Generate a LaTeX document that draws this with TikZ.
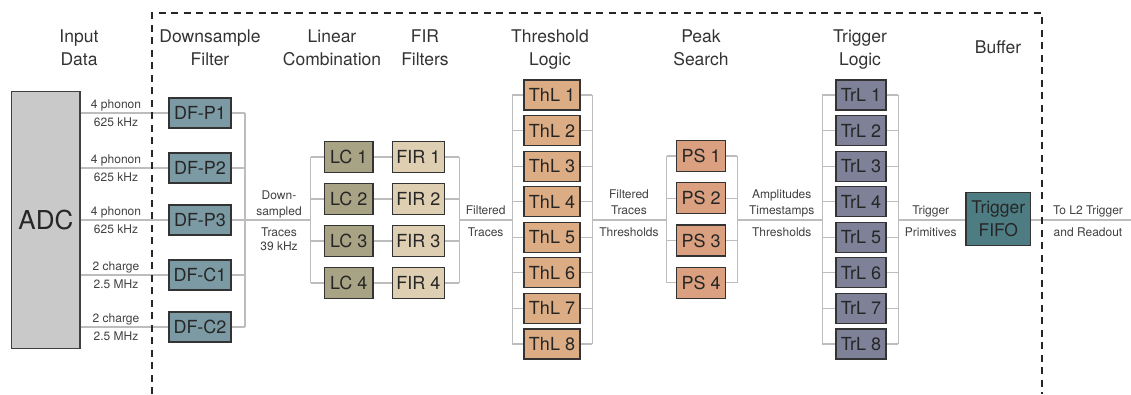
\documentclass[tikz,border=0pt]{standalone}
\usepackage{fontspec}
\setmainfont{TeX Gyre Heros}
\definecolor{adcc}{HTML}{C9C9C9}
\definecolor{dfc}{HTML}{7B9AA3}
\definecolor{lcc}{HTML}{A8A385}
\definecolor{firc}{HTML}{DFCFB2}
\definecolor{thlc}{HTML}{DCAD84}
\definecolor{psc}{HTML}{DAA080}
\definecolor{trlc}{HTML}{7E8197}
\definecolor{fifoc}{HTML}{4D7D83}
\definecolor{linec}{HTML}{BDBDBD}
\begin{document}
\begin{tikzpicture}[x=1pt,y=-1pt,
  box/.style={draw=black!80, line width=1.2pt, minimum height=30pt, inner sep=0pt,
    font=\fontsize{18}{18}\selectfont, text=black!85},
  conn/.style={draw=linec, line width=1.1pt},
  lbl/.style={font=\fontsize{12}{12}\selectfont, text=black!75, inner sep=0pt, anchor=base},
  ttl/.style={font=\fontsize{17.5}{23}\selectfont, text=black!80, align=center, inner sep=0pt, anchor=north},
]
\useasboundingbox (0,0) rectangle (1131,394);

% titles
\node[ttl] (t1) at (79,29.3) {Input\\Data};
\node[ttl] (t2) at (210,29.3) {Downsample\\Filter};
\node[ttl] (t3) at (332,29.3) {Linear\\Combination};
\node[ttl] (t4) at (425,29.3) {FIR\\Filters};
\node[ttl] (t5) at (550,29.3) {Threshold\\Logic};
\node[ttl] (t6) at (701,29.3) {Peak\\Search};
\node[ttl] (t7) at (860,29.3) {Trigger\\Logic};
\node[ttl, anchor=base] (t8) at (998,53.3) {Buffer};

% ADC
\node[draw=black!75, fill=adcc, line width=1.2pt, minimum width=68.3pt, minimum height=256.6pt,
  inner sep=0pt, font=\fontsize{26}{26}\selectfont, text=black!85] (adc) at (45.9,220) {ADC};

% downsample filters, input lines and their labels
\foreach \n/\t/\y/\a/\b in {p1/DF-P1/113/4 phonon/625 kHz,
                            p2/DF-P2/168/4 phonon/625 kHz,
                            p3/DF-P3/220/4 phonon/625 kHz,
                            c1/DF-C1/275/2 charge/2.5 MHz,
                            c2/DF-C2/327/2 charge/2.5 MHz}{
  \node[box, fill=dfc, minimum width=62pt] (df\n) at (200,\y) {\t};
  \draw[conn] (adc.east |- df\n) -- (df\n.west);
  \node[lbl] (in\n a) at (116,\y-5) {\a};
  \node[lbl] (in\n b) at (116,\y+13.2) {\b};
}

% LC and FIR
\foreach \i/\y in {1/157,2/199,3/241,4/283}{
  \node[box, fill=lcc, minimum width=48.7pt, minimum height=31pt] (lc\i) at (348.7,\y) {LC \i};
  \node[box, fill=firc, minimum width=52pt, minimum height=31pt] (fir\i) at (418.3,\y) {FIR \i};
  \draw[conn] (lc\i.east) -- (fir\i.west);
}

% ThL and TrL
\foreach \i in {1,...,8}{
  \pgfmathsetmacro{\yy}{95+35.57*(\i-1)}
  \node[box, fill=thlc, minimum width=56pt] (thl\i) at (552,\yy) {ThL \i};
  \node[box, fill=trlc, minimum width=50pt] (trl\i) at (861,\yy) {TrL \i};
}

% PS
\foreach \i/\y in {1/156,2/198.3,3/240.5,4/282.8}{
  \node[box, fill=psc, minimum width=49pt, minimum height=31pt] (ps\i) at (701.2,\y) {PS \i};
}

% FIFO
\node[box, fill=fifoc, minimum width=64.7pt, minimum height=53.4pt, align=center,
  font=\fontsize{17.5}{23}\selectfont] (fifo) at (998.3,219) {Trigger\\FIFO};

% bus coordinates
\coordinate (bDFo) at (245,220);
\coordinate (bLCi) at (310.7,220);
\coordinate (bFIRo) at (459.3,220);
\coordinate (bTHi) at (512.3,220);
\coordinate (bTHo) at (592.3,220);
\coordinate (bPSi) at (666.7,220);
\coordinate (bPSo) at (737.3,220);
\coordinate (bTRi) at (822.3,220);
\coordinate (bTRo) at (898.3,220);
\coordinate (outR) at (1131,220);

% DF outputs
\foreach \n in {p1,p2,p3,c1,c2}{ \draw[conn] (df\n.east) -- (df\n.east -| bDFo); }
\draw[conn] (dfp1.east -| bDFo) -- (dfc2.east -| bDFo);
\draw[conn] (bDFo) -- (bLCi);
% LC inputs
\foreach \i in {1,...,4}{ \draw[conn] (lc\i.west -| bLCi) -- (lc\i.west); }
\draw[conn] (lc1.west -| bLCi) -- (lc4.west -| bLCi);
% FIR outputs
\foreach \i in {1,...,4}{ \draw[conn] (fir\i.east) -- (fir\i.east -| bFIRo); }
\draw[conn] (fir1.east -| bFIRo) -- (fir4.east -| bFIRo);
\draw[conn] (bFIRo) -- (bTHi);
% ThL
\foreach \i in {1,...,8}{
  \draw[conn] (thl\i.west -| bTHi) -- (thl\i.west);
  \draw[conn] (thl\i.east) -- (thl\i.east -| bTHo);
}
\draw[conn] (thl1.west -| bTHi) -- (thl8.west -| bTHi);
\draw[conn] (thl1.east -| bTHo) -- (thl8.east -| bTHo);
\draw[conn] (bTHo) -- (bPSi);
% PS
\foreach \i in {1,...,4}{
  \draw[conn] (ps\i.west -| bPSi) -- (ps\i.west);
  \draw[conn] (ps\i.east) -- (ps\i.east -| bPSo);
}
\draw[conn] (ps1.west -| bPSi) -- (ps4.west -| bPSi);
\draw[conn] (ps1.east -| bPSo) -- (ps4.east -| bPSo);
\draw[conn] (bPSo) -- (bTRi);
% TrL
\foreach \i in {1,...,8}{
  \draw[conn] (trl\i.west -| bTRi) -- (trl\i.west);
  \draw[conn] (trl\i.east) -- (trl\i.east -| bTRo);
}
\draw[conn] (trl1.west -| bTRi) -- (trl8.west -| bTRi);
\draw[conn] (trl1.east -| bTRo) -- (trl8.east -| bTRo);
\draw[conn] (bTRo) -- (fifo.west |- bTRo);
\draw[conn] (fifo.east |- outR) -- (outR);

% connector labels
\node[lbl] (l1a) at (279,199) {Down-};
\node[lbl] (l1b) at (279,215) {sampled};
\node[lbl] (l1c) at (279,236) {Traces};
\node[lbl] (l1d) at (279,250.7) {39 kHz};
\node[lbl] (l2a) at (485.7,214.8) {Filtered};
\node[lbl] (l2b) at (485.7,236.3) {Traces};
\node[lbl] (l3a) at (629,198.3) {Filtered};
\node[lbl] (l3b) at (629,214) {Traces};
\node[lbl] (l3c) at (629,236) {Thresholds};
\node[lbl] (l4a) at (781.7,198.3) {Amplitudes};
\node[lbl] (l4b) at (781.7,214) {Timestamps};
\node[lbl] (l4c) at (781.7,236) {Thresholds};
\node[lbl] (l5a) at (930.7,214.3) {Trigger};
\node[lbl] (l5b) at (930.7,236) {Primitives};
\node[lbl] (l6a) at (1088,214.3) {To L2 Trigger};
\node[lbl] (l6b) at (1088,236) {and Readout};

% dashed FPGA region
\draw[black!85, line width=1.2pt, dash pattern=on 7pt off 5.5pt]
  (152,394) -- (152,13) -- (1042,13) -- (1042,394);
\end{tikzpicture}
\end{document}
